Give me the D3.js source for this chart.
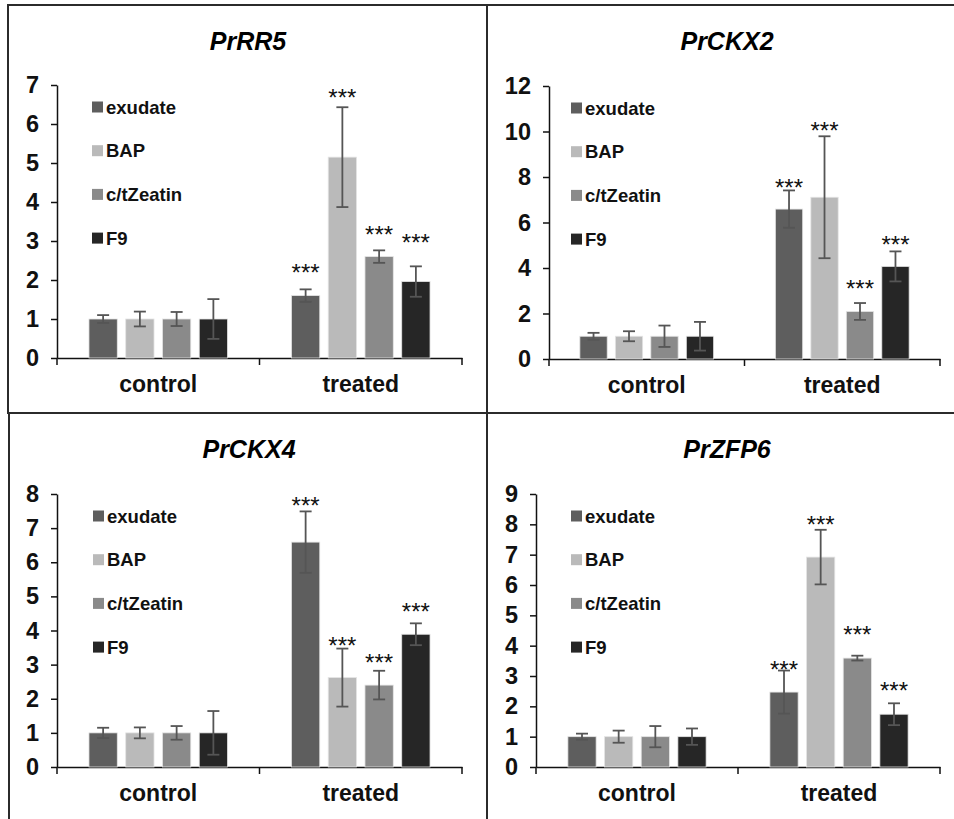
<!DOCTYPE html>
<html>
<head>
<meta charset="utf-8">
<script src="https://cdn.jsdelivr.net/npm/d3@7"></script>
<style>
  body { margin: 0; background: #fff; }
  text { font-family: "Liberation Sans", Arial, sans-serif; }
</style>
</head>
<body>
<div id="chart"></div>
<script>
// data
const genes = ['PrRR5', 'PrCKX2', 'PrCKX4', 'PrZFP6'];
const categories = ['control', 'treated'];
const treatments = ['exudate', 'BAP', 'c/tZeatin', 'F9'];
const yMax = [7, 12, 8, 9];
const yStep = [1, 2, 1, 1];

const controlValues = [
  [1, 1, 1, 1],
  [1, 1, 1, 1],
  [1, 1, 1, 1],
  [1, 1, 1, 1]
];
const controlErrors = [
  [0.1, 0.19, 0.18, 0.51],
  [0.15, 0.22, 0.47, 0.63],
  [0.15, 0.16, 0.2, 0.64],
  [0.1, 0.2, 0.35, 0.27]
];
const treatedValues = [
  [1.6, 5.15, 2.6, 1.96],
  [6.59, 7.11, 2.09, 4.07],
  [6.59, 2.62, 2.4, 3.89],
  [2.47, 6.92, 3.59, 1.74]
];
const treatedErrors = [
  [0.16, 1.28, 0.16, 0.39],
  [0.82, 2.68, 0.37, 0.66],
  [0.9, 0.85, 0.42, 0.32],
  [0.71, 0.9, 0.08, 0.36]
];
// significance marks on treated bars, and the value level where each sits
const treatedStars = ['***', '***', '***', '***'];
const starLevels = [
  [2.33, 6.83, 3.3, 3.09],
  [7.8, 10.29, 3.34, 5.28],
  [7.82, 3.72, 3.23, 4.72],
  [3.38, 8.18, 4.54, 2.7]
];

const colors = ['#5e5e5e', '#bababa', '#8a8a8a', '#262626'];

// panel frames and plot areas
const panels = [
  { bx: 8, by: 5, bw: 479, bh: 408, left: 57, right: 462, top: 85, bottom: 358 },
  { bx: 487, by: 5, bw: 500, bh: 408, left: 549, right: 940, top: 86, bottom: 359 },
  { bx: 9, by: 413, bw: 478, bh: 450, left: 57, right: 462, top: 494, bottom: 767 },
  { bx: 487, by: 413, bw: 500, bh: 450, left: 536, right: 940, top: 494, bottom: 767 }
];

const svg = d3.select('#chart').append('svg')
  .attr('width', 954)
  .attr('height', 819);

genes.forEach((gene, gi) => {
  const p = panels[gi];
  const g = svg.append('g');

  g.append('rect')
    .attr('x', p.bx).attr('y', p.by)
    .attr('width', p.bw).attr('height', p.bh)
    .attr('fill', 'none')
    .attr('stroke', '#2b2b2b')
    .attr('stroke-width', 2);

  g.append('text')
    .attr('x', p.bx + 240)
    .attr('y', p.by + 45)
    .attr('text-anchor', 'middle')
    .style('font-size', '25px')
    .style('font-weight', 'bold')
    .style('font-style', 'italic')
    .text(gene);

  const x0 = d3.scaleBand().domain(categories).range([p.left, p.right]);
  const x1 = d3.scaleBand().domain(treatments)
    .range([0, x0.bandwidth()])
    .paddingInner(0.23)
    .paddingOuter(0.87);
  const y = d3.scaleLinear().domain([0, yMax[gi]]).range([p.bottom, p.top]);

  // y axis
  const yAxis = d3.axisLeft(y)
    .tickValues(d3.range(0, yMax[gi] + yStep[gi] / 2, yStep[gi]))
    .tickSize(6)
    .tickSizeOuter(0)
    .tickPadding(12)
    .tickFormat(d3.format('d'));
  const ya = g.append('g')
    .attr('transform', `translate(${p.left},0)`)
    .call(yAxis);
  ya.select('.domain').attr('stroke', '#111').attr('stroke-width', 1.5);
  ya.selectAll('.tick line').attr('stroke', '#111').attr('stroke-width', 1.5);
  ya.selectAll('.tick text')
    .attr('fill', '#111')
    .style('font-size', '23.5px')
    .style('font-weight', 'bold')
    .style('font-family', '"Liberation Sans", Arial, sans-serif');

  // x axis
  const xAxis = d3.axisBottom(x0).tickSize(0).tickSizeOuter(0).tickPadding(18);
  const xa = g.append('g')
    .attr('transform', `translate(0,${p.bottom})`)
    .call(xAxis);
  xa.select('.domain').attr('stroke', '#111').attr('stroke-width', 1.5);
  xa.selectAll('.tick text')
    .attr('fill', '#111')
    .style('font-size', '23px')
    .style('font-weight', 'bold')
    .style('font-family', '"Liberation Sans", Arial, sans-serif');
  const bounds = categories.map(c => x0(c)).concat([x0.range()[1]]);
  xa.selectAll('.bound')
    .data(bounds)
    .join('line')
    .attr('x1', d => d).attr('x2', d => d)
    .attr('y1', 0).attr('y2', 7)
    .attr('stroke', '#111')
    .attr('stroke-width', 1.5);

  const rows = [
    { cat: 'control', vals: controlValues[gi], errs: controlErrors[gi], stars: null },
    { cat: 'treated', vals: treatedValues[gi], errs: treatedErrors[gi], stars: starLevels[gi] }
  ];

  rows.forEach(row => {
    const data = treatments.map((t, i) => ({
      t, i, v: row.vals[i], e: row.errs[i], s: row.stars ? row.stars[i] : null
    }));
    const grp = g.append('g').attr('transform', `translate(${x0(row.cat)},0)`);

    grp.selectAll('rect.bar')
      .data(data)
      .join('rect')
      .attr('class', 'bar')
      .attr('x', d => x1(d.t))
      .attr('width', x1.bandwidth())
      .attr('y', d => y(d.v))
      .attr('height', d => y(0) - y(d.v))
      .attr('fill', d => colors[d.i])
      .attr('stroke', '#e4e4e4')
      .attr('stroke-width', 0.8);

    const eb = grp.selectAll('g.err')
      .data(data)
      .join('g')
      .attr('class', 'err')
      .attr('stroke', '#555')
      .attr('stroke-width', 1.8);
    const cx = d => x1(d.t) + x1.bandwidth() / 2;
    eb.append('line')
      .attr('x1', cx).attr('x2', cx)
      .attr('y1', d => y(d.v + d.e)).attr('y2', d => y(d.v - d.e));
    eb.append('line')
      .attr('x1', d => cx(d) - 6).attr('x2', d => cx(d) + 6)
      .attr('y1', d => y(d.v + d.e)).attr('y2', d => y(d.v + d.e));
    eb.append('line')
      .attr('x1', d => cx(d) - 6).attr('x2', d => cx(d) + 6)
      .attr('y1', d => y(d.v - d.e)).attr('y2', d => y(d.v - d.e));

    if (row.stars) {
      grp.selectAll('text.star')
        .data(data)
        .join('text')
        .attr('class', 'star')
        .attr('x', cx)
        .attr('y', d => y(d.s) + 14)
        .attr('text-anchor', 'middle')
        .style('font-size', '24px')
        .attr('fill', '#111')
        .text(treatedStars[gi]);
    }
  });

  // legend
  const lg = g.append('g').attr('transform', `translate(${p.bx + 84},${p.top + 22})`);
  const item = lg.selectAll('g')
    .data(treatments)
    .join('g')
    .attr('transform', (d, i) => `translate(0,${i * 43.7})`);
  item.append('rect')
    .attr('x', 0).attr('y', -5.5)
    .attr('width', 11).attr('height', 11)
    .attr('fill', (d, i) => colors[i]);
  item.append('text')
    .attr('x', 14)
    .attr('y', 6.5)
    .style('font-size', '18.5px')
    .style('font-weight', 'bold')
    .attr('fill', '#111')
    .text(d => d);
});
</script>
</body>
</html>
